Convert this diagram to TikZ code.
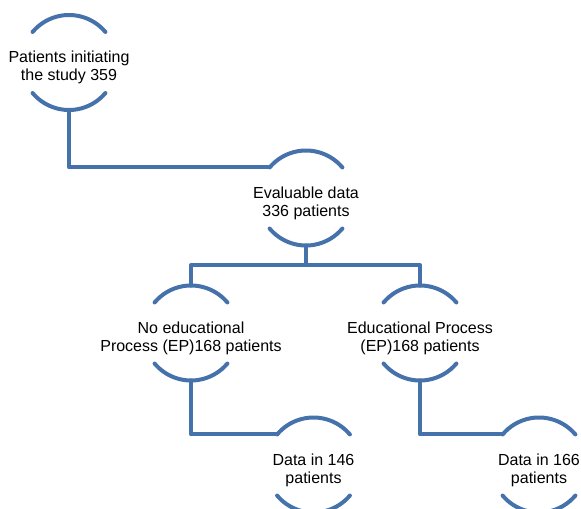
\documentclass[tikz,border=0pt]{standalone}
\usepackage{xcolor}
\usepackage{fontspec}
\setmainfont{Liberation Sans}
\usepackage{tikz}
\usetikzlibrary{positioning,calc}

\definecolor{flowblue}{RGB}{70,114,172}

\begin{document}
\begin{tikzpicture}[
    hub/.style = {
        circle,
        minimum size=1.9cm,
        inner sep=0pt,
        outer sep=0pt
    },
    hubtext/.style = {
        align=center,
        font=\fontsize{9.1}{10.4}\selectfont,
        inner sep=0pt,
        yshift=-0.1cm
    },
    arcline/.style = {draw=flowblue, line width=0.08cm},
    link/.style    = {draw=flowblue, line width=0.08cm},
    line cap=round, line join=round
]

% Page size
\useasboundingbox (0,0) rectangle (11.62,-10.18);

% Row spacing
\def\rowone{-1.25}
\def\rowtwo{-3.96}
\def\rowthree{-6.66}
\def\rowfour{-9.30}

% Circles (only the arcs are drawn)
\node[hub] (start)     at (1.38,\rowone)   {};
\node[hub] (evaluable) at (6.12,\rowtwo)   {};
\node[hub] (noep)      at (3.82,\rowthree) {};
\node[hub] (ep)        at (8.40,\rowthree) {};
\node[hub] (data146)   at (6.27,\rowfour)  {};
\node[hub] (data166)   at (10.78,\rowfour) {};

% Texts
\node[hubtext] (starttext)     at (start)     {Patients initiating\\the study 359};
\node[hubtext] (evaluabletext) at (evaluable) {Evaluable data\\336 patients};
\node[hubtext] (noeptext)      at (noep)      {No educational\\Process (EP)168 patients};
\node[hubtext] (eptext)        at (ep)        {Educational Process\\(EP)168 patients};
\node[hubtext] (data146text)   at (data146)   {Data in 146\\patients};
\node[hubtext] (data166text)   at (data166)   {Data in 166\\patients};

% Top and bottom arcs
\foreach \n in {start,evaluable,noep,ep,data146,data166}{
    \draw[arcline] (\n.40)  arc[start angle=40,  end angle=140, radius=0.95cm];
    \draw[arcline] (\n.220) arc[start angle=220, end angle=320, radius=0.95cm];
}

% Connectors
\coordinate (split) at (6.12,-5.30);
\draw[link] (start.south) |- (evaluable.140);
\draw[link] (evaluable.south) -- (split);
\draw[link] (noep.north) |- (split) -| (ep.north);
\draw[link] (noep.south) |- (data146.140);
\draw[link] (ep.south) |- (data166.140);

\end{tikzpicture}
\end{document}
